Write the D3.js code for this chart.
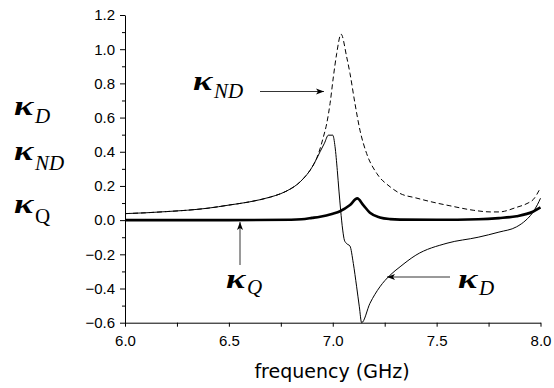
<!DOCTYPE html>
<html>
<head>
	<meta charset="utf-8">
	<script src="https://d3js.org/d3.v7.min.js"></script>
	<title>kappa vs frequency</title>
	<style>
		html, body { margin: 0; padding: 0; background: #fff; }
		svg { display: block; }
		.tick text { font-family: "Liberation Sans", Arial, sans-serif; font-size: 15px; fill: #000; }
		.kap { font-family: "Liberation Serif", "Times New Roman", serif; font-weight: bold; font-style: italic; fill: #000; }
		.sub { font-family: "Liberation Serif", "Times New Roman", serif; font-weight: normal; fill: #000; }
	</style>
</head>
<body>
	<svg width="554" height="388"></svg>

	<script>
		// kappa_ND (dashed)
		const freqND = [6.0, 6.1, 6.2, 6.3, 6.4, 6.5, 6.6, 6.7, 6.75, 6.8, 6.83, 6.86, 6.89, 6.91, 6.93, 6.955, 6.971, 6.987,
			7.003, 7.019, 7.04, 7.067, 7.083, 7.107, 7.131, 7.163, 7.212, 7.276, 7.324, 7.4, 7.5, 7.56, 7.676,
			7.76, 7.8, 7.885, 7.94, 7.965, 8.0];
		const kND = [0.038, 0.043, 0.05, 0.058, 0.07, 0.088, 0.107, 0.135, 0.155, 0.185, 0.21, 0.245, 0.29, 0.33, 0.385, 0.487, 0.565, 0.682,
			0.838, 0.975, 1.088, 0.955, 0.858, 0.682, 0.526, 0.39, 0.273, 0.195, 0.156, 0.13, 0.1, 0.085, 0.058,
			0.048, 0.048, 0.075, 0.1, 0.12, 0.19];

		// kappa_D (thin solid)
		const freqD = [6.0, 6.1, 6.2, 6.3, 6.4, 6.5, 6.6, 6.7, 6.75, 6.8, 6.83, 6.86, 6.89, 6.91, 6.939, 6.96, 6.979, 7.0,
			7.011, 7.022, 7.03, 7.038, 7.048, 7.056, 7.065, 7.083, 7.099, 7.115, 7.128, 7.139, 7.179, 7.227,
			7.276, 7.324, 7.4, 7.55, 7.7, 7.8, 7.885, 7.93, 7.96, 7.985, 8.0];
		const kD = [0.038, 0.043, 0.05, 0.058, 0.07, 0.088, 0.107, 0.135, 0.155, 0.185, 0.21, 0.245, 0.29, 0.33, 0.4, 0.45, 0.497, 0.497,
			0.43, 0.29, 0.17, 0.058, -0.058, -0.117, -0.135, -0.152, -0.253, -0.39, -0.507, -0.6, -0.487, -0.39,
			-0.322, -0.273, -0.205, -0.135, -0.1, -0.07, -0.039, 0.0, 0.04, 0.09, 0.128];

		// kappa_Q (thick)
		const freqQ = [6.0, 6.5, 6.8, 6.85, 6.9, 6.939, 7.0, 7.035, 7.083, 7.118, 7.147, 7.179, 7.227, 7.276, 7.324,
			7.5, 7.7, 7.8, 7.885, 7.963, 8.0];
		const kQ = [0.0, 0.0, 0.002, 0.005, 0.013, 0.02, 0.038, 0.052, 0.088, 0.127, 0.088, 0.043, 0.016, 0.006, 0.003,
			0.002, 0.005, 0.012, 0.023, 0.049, 0.074];

		const xTicks = [6.0, 6.5, 7.0, 7.5, 8.0];
		const yTicks = [-0.6, -0.4, -0.2, 0.0, 0.2, 0.4, 0.6, 0.8, 1.0, 1.2];

		const svg = d3.select("svg");

		const x = d3.scaleLinear().domain([6.0, 8.0]).range([125, 540.5]);
		const y = d3.scaleLinear().domain([-0.6, 1.2]).range([322.7, 15]);

		// x axis: minor every 0.25, labels on 0.5
		const xAxis = d3.axisBottom(x)
			.tickValues(d3.range(6.0, 8.01, 0.25))
			.tickSize(4)
			.tickSizeOuter(0)
			.tickPadding(9)
			.tickFormat(d => xTicks.some(t => Math.abs(t - d) < 1e-6) ? d3.format(".1f")(d) : "");
		svg.append("g")
			.attr("transform", "translate(0," + y(-0.6) + ")")
			.call(xAxis);

		// y axis minor ticks
		svg.append("g")
			.attr("transform", "translate(" + x(6.0) + ",0)")
			.call(d3.axisLeft(y).tickValues(d3.range(-0.5, 1.2, 0.2)).tickSize(3).tickFormat(""))
			.select(".domain").remove();

		// y axis major
		svg.append("g")
			.attr("transform", "translate(" + x(6.0) + ",0)")
			.call(d3.axisLeft(y).tickValues(yTicks).tickSize(5).tickSizeOuter(0).tickPadding(5)
				.tickFormat(d => d3.format(".1f")(d).replace("-", "\u2212")));

		svg.selectAll(".domain, .tick line").attr("stroke", "#000").attr("stroke-width", 1);

		svg.append("text")
			.attr("x", 332)
			.attr("y", 378)
			.attr("text-anchor", "middle")
			.style("font-family", "'DejaVu Sans', sans-serif")
			.style("font-size", "19px")
			.text("frequency (GHz)");

		const line = d3.line().curve(d3.curveMonotoneX);

		function draw(fs, vs, w, dash) {
			svg.append("path")
				.attr("d", line(fs.map((f, i) => [x(f), y(vs[i])])))
				.attr("fill", "none")
				.attr("stroke", "#000")
				.attr("stroke-width", w)
				.attr("stroke-dasharray", dash);
		}
		draw(freqND, kND, 1, "5,3");
		draw(freqD, kD, 1, null);
		draw(freqQ, kQ, 2.6, null);

		// arrow heads
		svg.append("defs").append("marker")
			.attr("id", "head")
			.attr("viewBox", "0 -4 8 8")
			.attr("refX", 8).attr("refY", 0)
			.attr("markerWidth", 8).attr("markerHeight", 8)
			.attr("markerUnits", "userSpaceOnUse")
			.attr("orient", "auto")
			.append("path")
			.attr("d", "M0,-3L8,0L0,3L2,0Z")
			.attr("fill", "#000");

		const arrows = [[260, 91.5, 324, 91.5], [240, 265, 240, 222], [450, 277, 387, 277]];
		svg.selectAll(".arr").data(arrows).enter().append("line")
			.attr("x1", d => d[0]).attr("y1", d => d[1])
			.attr("x2", d => d[2]).attr("y2", d => d[3])
			.attr("stroke", "#000").attr("stroke-width", 0.8)
			.attr("marker-end", "url(#head)");

		// kappa labels: [x, baseline, subscript, sub dy, italic sub]
		const labels = [
			[16, 115, "D", 8, true], [16, 160, "ND", 10, true], [16, 213, "Q", 10, false],
			[195, 90, "ND", 8, true], [228, 288, "Q", 6, true], [460, 288, "D", 7, true]
		];
		labels.forEach(l => {
			svg.append("text").attr("class", "kap")
				.attr("transform", "translate(" + (l[0] - 2) + "," + l[1] + ") scale(1.3,1)")
				.style("font-size", "28px")
				.text("\u03ba");
			svg.append("text").attr("class", "sub")
				.attr("x", l[0] + 19).attr("y", l[1] + l[3])
				.style("font-size", "21px")
				.style("font-style", l[4] ? "italic" : "normal")
				.text(l[2]);
		});
	</script>
</body>
</html>
